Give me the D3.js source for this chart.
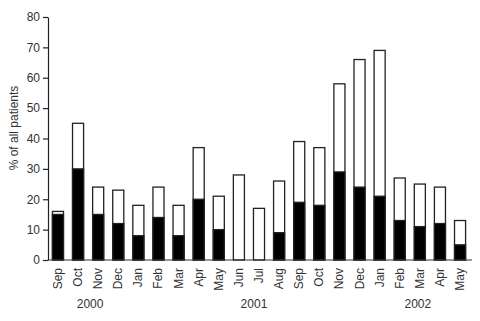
<!DOCTYPE html>
<html>
<head>
<meta charset="utf-8">
<script src="https://cdn.jsdelivr.net/npm/d3@7"></script>
<style>
  body { margin: 0; background: #fff; }
  svg text { font-family: "Liberation Sans", Arial, sans-serif; fill: #333; }
</style>
</head>
<body>
<svg width="480" height="321"></svg>
<script>
// data
const months = ['Sep','Oct','Nov','Dec','Jan','Feb','Mar','Apr','May','Jun','Jul',
                'Aug','Sep','Oct','Nov','Dec','Jan','Feb','Mar','Apr','May'];
const totals = [16,45,24,23,18,24,18,37,21,28,17,26,39,37,58,66,69,27,25,24,13];
const black  = [15,30,15,12, 8,14, 8,20,10, 0, 0, 9,19,18,29,24,21,13,11,12, 5];
const years = ['2000','2001','2002'];
const yearPos = [1.6, 9.75, 17.9]; // position in month-index units
const yTicks = [0,10,20,30,40,50,60,70,80];

const svg = d3.select('svg');
const x0 = 48, x1 = 470, yBottom = 260, yTop = 17;

const idx = d3.range(months.length);
const xScale = d3.scaleBand().domain(idx).range([x0, x1]).paddingInner(0.45).paddingOuter(0.22);
const step = xScale.step();
const yScale = d3.scaleLinear().domain([0, 80]).range([yBottom, yTop]);

// y axis
const gY = svg.append('g')
  .attr('transform', `translate(${x0},0)`)
  .call(d3.axisLeft(yScale).tickValues(yTicks).tickSize(5).tickPadding(3).tickSizeOuter(0));
gY.select('.domain').attr('stroke', '#222').attr('stroke-width', 1.2);
gY.selectAll('line').attr('stroke', '#222').attr('stroke-width', 1.2);
gY.selectAll('text').attr('font-size', 12).style('fill', '#333');

// bars: outline total, filled black part
const g = svg.append('g');
g.selectAll('rect.total')
  .data(idx)
  .enter().append('rect')
  .attr('class', 'total')
  .attr('x', i => xScale(i))
  .attr('width', xScale.bandwidth())
  .attr('y', i => yScale(totals[i]))
  .attr('height', i => yScale(0) - yScale(totals[i]))
  .attr('fill', '#fff')
  .attr('stroke', '#222')
  .attr('stroke-width', 1.3);

g.selectAll('rect.black')
  .data(idx.filter(i => black[i] > 0))
  .enter().append('rect')
  .attr('class', 'black')
  .attr('x', i => xScale(i))
  .attr('width', xScale.bandwidth())
  .attr('y', i => yScale(black[i]))
  .attr('height', i => yScale(0) - yScale(black[i]))
  .attr('fill', '#000')
  .attr('stroke', '#222')
  .attr('stroke-width', 1.3);

// x axis line
svg.append('line')
  .attr('x1', x0).attr('x2', 472)
  .attr('y1', yBottom).attr('y2', yBottom)
  .attr('stroke', '#333').attr('stroke-width', 1.2);

// month labels, rotated
svg.selectAll('text.month')
  .data(idx)
  .enter().append('text')
  .attr('class', 'month')
  .attr('transform', i => `translate(${xScale(i) + xScale.bandwidth() / 2 + 4},${yBottom + 8}) rotate(-90)`)
  .attr('text-anchor', 'end')
  .attr('font-size', 12)
  .text(i => months[i]);

// year labels
const firstCenter = xScale(0) + xScale.bandwidth() / 2;
svg.selectAll('text.year')
  .data(years)
  .enter().append('text')
  .attr('class', 'year')
  .attr('x', (d, i) => firstCenter + yearPos[i] * step)
  .attr('y', 308)
  .attr('text-anchor', 'middle')
  .attr('font-size', 12)
  .text(d => d);

// y label
svg.append('text')
  .attr('transform', 'translate(18,128) rotate(-90)')
  .attr('text-anchor', 'middle')
  .attr('font-size', 12)
  .text('% of all patients');
</script>
</body>
</html>
